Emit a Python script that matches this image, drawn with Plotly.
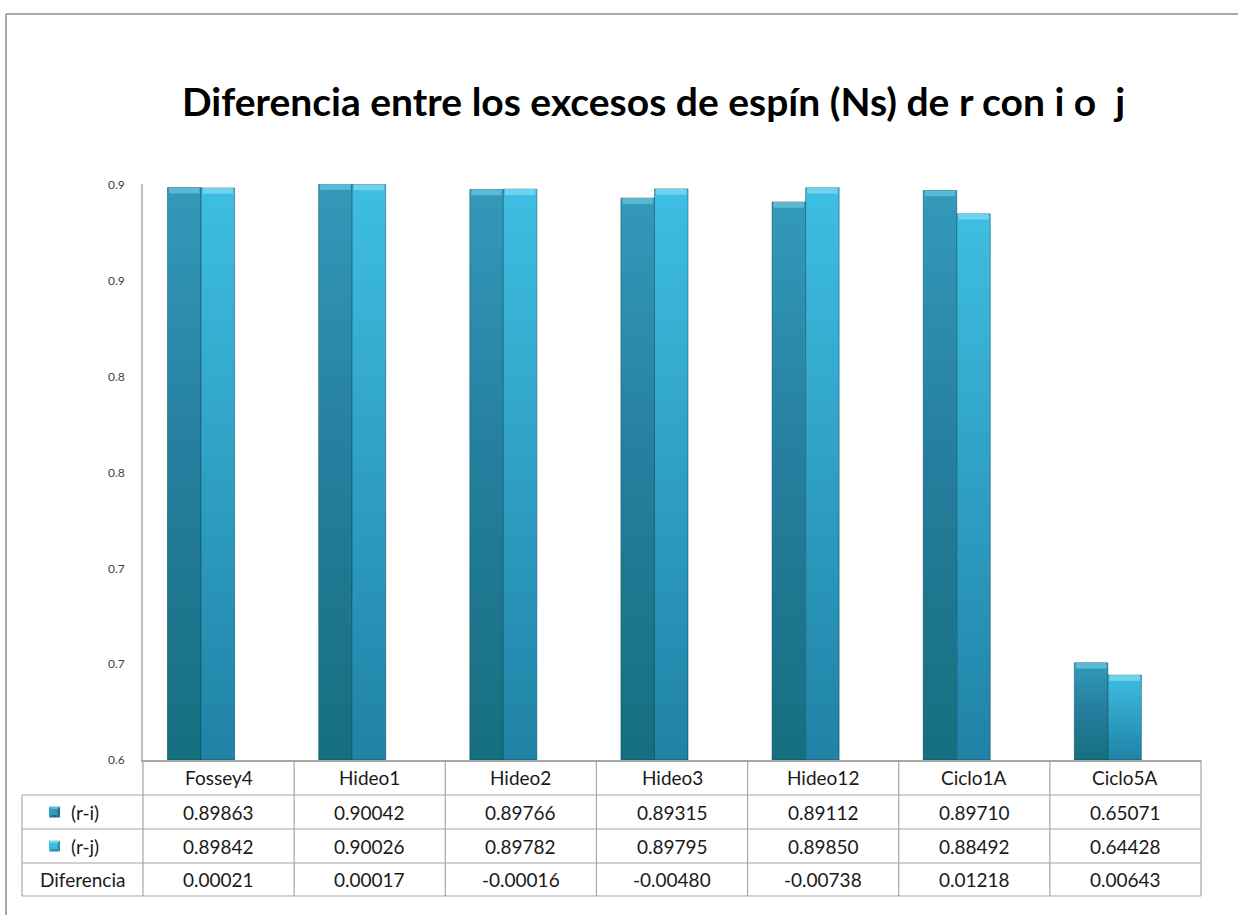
import plotly.graph_objects as go

# --- data -----------------------------------------------------------------
categories = ["Fossey4", "Hideo1", "Hideo2", "Hideo3", "Hideo12", "Ciclo1A", "Ciclo5A"]
r_i = [0.89863, 0.90042, 0.89766, 0.89315, 0.89112, 0.89710, 0.65071]
r_j = [0.89842, 0.90026, 0.89782, 0.89795, 0.89850, 0.88492, 0.64428]
diferencia = [0.00021, 0.00017, -0.00016, -0.00480, -0.00738, 0.01218, 0.00643]
row_labels = ["(r-i)", "(r-j)", "Diferencia"]
y_tickvals = [0.60, 0.65, 0.70, 0.75, 0.80, 0.85, 0.90]
y_ticktext = ["0.6", "0.7", "0.7", "0.8", "0.8", "0.9", "0.9"]
title_text = "Diferencia entre los excesos de espín (Ns) de r con i o  j"

# --- geometry (pixels on a 1238 x 915 canvas) ------------------------------
W, H = 1238, 915
PLOT_L, PLOT_R = 143, 1201
PLOT_T, PLOT_B = 184, 760
LEG_L = 22
ROW_LINES = [795, 829, 863, 896]
Y_MIN, Y_MAX = 0.6, 0.9005


def px(x):
    return x / W


def py(y):
    return 1 - y / H


FONT = "Lato, 'Open Sans', sans-serif"
GRID = "#A6A6A6"

series = [
    # name, values, top colour, bevel colour, offset
    ("(r-i)", r_i, "#3399B9", "#5BBAD3", -0.338),
    ("(r-j)", r_j, "#3DBDE1", "#6FD3EE", -0.116),
]
BAR_W = 0.222
N_SHADE = 30
SHADE_A = 0.0080
BEVEL_H = 0.0030

fig = go.Figure()

for name, vals, col, bevel, off in series:
    # main bar
    fig.add_trace(go.Bar(
        x=categories, y=[v - Y_MIN for v in vals], base=Y_MIN,
        width=BAR_W, offset=off, name=name,
        marker=dict(color=col, line=dict(color="rgba(10,60,80,0.45)", width=1)),
        showlegend=False,
    ))
    # darkening towards the bottom of each bar
    for k in range(1, N_SHADE):
        f = k / N_SHADE
        fig.add_trace(go.Bar(
            x=categories, y=[(v - Y_MIN) * f for v in vals], base=Y_MIN,
            width=BAR_W, offset=off,
            marker=dict(color=f"rgba(0,0,0,{SHADE_A})", line=dict(width=0)),
            showlegend=False, hoverinfo="skip",
        ))
    # light bevel at the top
    fig.add_trace(go.Bar(
        x=categories, y=[BEVEL_H] * len(vals), base=[v - BEVEL_H for v in vals],
        width=BAR_W - 0.02, offset=off + 0.01,
        marker=dict(color=bevel, line=dict(width=0)),
        showlegend=False, hoverinfo="skip",
    ))

shapes = []
# outer chart frame (top and left edges)
shapes.append(dict(type="line", xref="paper", yref="paper",
                   x0=px(6), x1=px(1238), y0=py(14), y1=py(14),
                   line=dict(color="#8C8C8C", width=1.5)))
shapes.append(dict(type="line", xref="paper", yref="paper",
                   x0=px(6), x1=px(6), y0=py(14), y1=py(915),
                   line=dict(color="#8C8C8C", width=1.5)))

# data table grid
for yy in ROW_LINES:
    shapes.append(dict(type="line", xref="paper", yref="paper",
                       x0=px(LEG_L), x1=px(PLOT_R), y0=py(yy), y1=py(yy),
                       line=dict(color=GRID, width=1.2)))
shapes.append(dict(type="line", xref="paper", yref="paper",
                   x0=px(LEG_L), x1=px(LEG_L), y0=py(ROW_LINES[0]), y1=py(ROW_LINES[-1]),
                   line=dict(color=GRID, width=1.2)))
col_w = (PLOT_R - PLOT_L) / len(categories)
for i in range(1, len(categories) + 1):
    xx = PLOT_L + i * col_w
    shapes.append(dict(type="line", xref="paper", yref="paper",
                       x0=px(xx), x1=px(xx), y0=py(PLOT_B), y1=py(ROW_LINES[-1]),
                       line=dict(color=GRID, width=1.2)))
shapes.append(dict(type="line", xref="paper", yref="paper",
                   x0=px(PLOT_L), x1=px(PLOT_L), y0=py(PLOT_B), y1=py(ROW_LINES[-1]),
                   line=dict(color=GRID, width=1.2)))

# legend keys inside the table
key_cols = [("#3399B9", "#5BBAD3", "#226E86"), ("#3DBDE1", "#75D6F0", "#2A8DAA")]
for (mid, light, dark), r in zip(key_cols, range(2)):
    cy = (ROW_LINES[r] + ROW_LINES[r + 1]) / 2
    x0, x1 = 49, 60
    y0, y1 = cy - 5.5, cy + 5.5
    cx = (x0 + x1) / 2
    # pyramid-like bevel: four triangles around a centre point
    tris = [
        ((x0, y0), (x1, y0), (cx, cy), light),
        ((x0, y0), (x0, y1), (cx, cy), mid),
        ((x1, y0), (x1, y1), (cx, cy), dark),
        ((x0, y1), (x1, y1), (cx, cy), dark),
    ]
    for a, b, c, colr in tris:
        path = (f"M{px(a[0])},{py(a[1])} L{px(b[0])},{py(b[1])} "
                f"L{px(c[0])},{py(c[1])} Z")
        shapes.append(dict(type="path", xref="paper", yref="paper", path=path,
                           fillcolor=colr, line=dict(width=0)))
    shapes.append(dict(type="rect", xref="paper", yref="paper",
                       x0=px(x0 + 2.5), x1=px(x1 - 2.5), y0=py(y0 + 2.5), y1=py(y1 - 2.5),
                       fillcolor=mid, line=dict(width=0)))

annotations = []
TXT = dict(family=FONT, size=19, color="#1A1A1A")
# title
annotations.append(dict(text=f"<b>{title_text}</b>", xref="paper", yref="paper",
                        x=px(653), y=py(101), xanchor="center", yanchor="middle",
                        showarrow=False, font=dict(family=FONT, size=39, color="#000000")))
# header row with category names
hdr_y = (PLOT_B + ROW_LINES[0]) / 2
for c in categories:
    annotations.append(dict(text=c, x=c, xref="x", y=py(hdr_y), yref="paper",
                            showarrow=False, xanchor="center", yanchor="middle", font=TXT))
# value rows
rows = [r_i, r_j, diferencia]
for r, (lab, vals) in enumerate(zip(row_labels, rows)):
    cy = (ROW_LINES[r] + ROW_LINES[r + 1]) / 2
    for c, v in zip(categories, vals):
        annotations.append(dict(text=f"{v:.5f}", x=c, xref="x", y=py(cy), yref="paper",
                                showarrow=False, xanchor="center", yanchor="middle", font=TXT))
    if r < 2:
        annotations.append(dict(text=lab, x=px(69), xref="paper", y=py(cy), yref="paper",
                                showarrow=False, xanchor="left", yanchor="middle", font=TXT))
    else:
        annotations.append(dict(text=lab, x=px((LEG_L + PLOT_L) / 2), xref="paper",
                                y=py(cy), yref="paper", showarrow=False,
                                xanchor="center", yanchor="middle", font=TXT))

fig.update_layout(
    width=W, height=H, autosize=False,
    margin=dict(l=0, r=0, t=0, b=0, pad=0, autoexpand=False),
    paper_bgcolor="white", plot_bgcolor="white",
    barmode="overlay",
    showlegend=False,
    shapes=shapes,
    annotations=annotations,
    xaxis=dict(
        type="category", categoryorder="array", categoryarray=categories,
        domain=[px(PLOT_L), px(PLOT_R)], range=[-0.5, len(categories) - 0.5],
        showticklabels=False, showgrid=False, zeroline=False, automargin=False,
        showline=True, linecolor=GRID, linewidth=1.5, fixedrange=True,
    ),
    yaxis=dict(
        domain=[py(PLOT_B), py(PLOT_T)], range=[Y_MIN, Y_MAX],
        tickvals=y_tickvals, ticktext=y_ticktext,
        tickfont=dict(family=FONT, size=12, color="#404040"),
        ticks="", ticklabelstandoff=14, automargin=False,
        showgrid=False, zeroline=False,
        showline=True, linecolor="#BFBFBF", linewidth=1.5, fixedrange=True,
    ),
)

fig.write_html("out.html", config={"displayModeBar": False})
